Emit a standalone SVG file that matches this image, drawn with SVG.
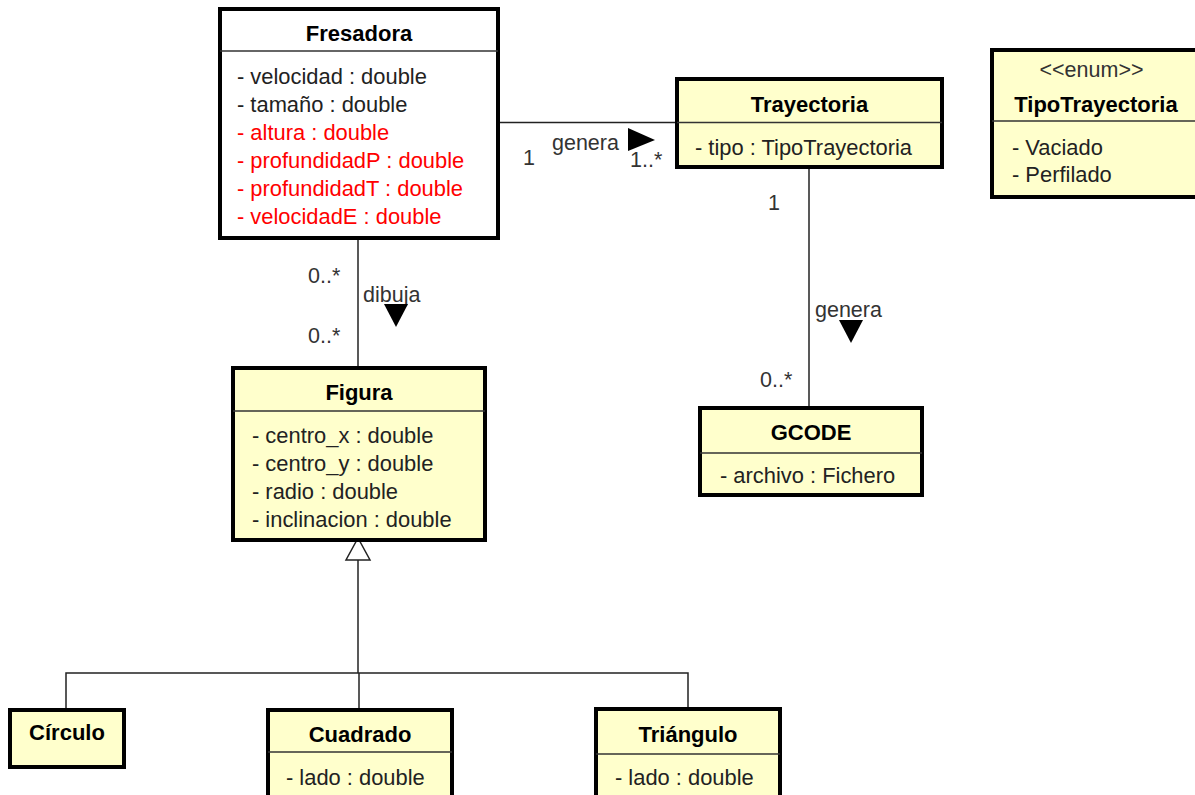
<svg xmlns="http://www.w3.org/2000/svg" width="1195" height="795" viewBox="0 0 1195 795">
  <style>
    .box { fill: #FFFFCC; stroke: #000; stroke-width: 4; }
    .box.plain { fill: #FFFFFF; }
    .sep { stroke: #333; stroke-width: 1.5; }
    .title { font-family: "Liberation Sans", Arial, sans-serif; font-size: 22px; font-weight: bold; fill: #000; text-anchor: middle; }
    .attr { font-family: "Liberation Sans", Arial, sans-serif; font-size: 21.9px; fill: #222; }
    .attr.red { fill: #FF0000; }
    .lbl { font-family: "Liberation Sans", Arial, sans-serif; font-size: 21.5px; fill: #333; }
    .link { stroke: #222; stroke-width: 1.5; fill: none; }
    .dir { fill: #000; }
    .gen { fill: #FFFFFF; stroke: #222; stroke-width: 1.5; }
  </style>

  <!-- associations and generalization -->
  <g id="connectors">
    <!-- Fresadora - Trayectoria -->
    <line class="link" x1="498" y1="122.5" x2="677" y2="122.5"/>
    <text class="lbl" x="523" y="165">1</text>
    <text class="lbl" x="552" y="150">genera</text>
    <text class="lbl" x="630" y="167">1..*</text>
    <polygon class="dir" points="628,128 628,151 655,140"/>

    <!-- Fresadora - Figura -->
    <line class="link" x1="358" y1="238" x2="358" y2="368"/>
    <text class="lbl" x="308" y="283">0..*</text>
    <text class="lbl" x="308" y="343">0..*</text>
    <text class="lbl" x="363" y="302">dibuja</text>
    <polygon class="dir" points="384,304 408,304 396,327"/>

    <!-- Trayectoria - GCODE -->
    <line class="link" x1="809" y1="167" x2="809" y2="408"/>
    <text class="lbl" x="768" y="210">1</text>
    <text class="lbl" x="815" y="317">genera</text>
    <text class="lbl" x="760" y="387">0..*</text>
    <polygon class="dir" points="839,320 863,320 851,343"/>

    <!-- Figura generalization -->
    <polyline class="link" points="66,710 66,673 688,673 688,709"/>
    <line class="link" x1="358" y1="560" x2="358" y2="673"/>
    <line class="link" x1="359" y1="673" x2="359" y2="710"/>
    <polygon class="gen" points="358,538 346,560 370,560"/>
  </g>

  <g id="fresadora">
    <rect class="box plain" x="220" y="9" width="278" height="229"/>
    <line class="sep" x1="220" y1="51" x2="498" y2="51"/>
    <text class="title" x="359" y="41">Fresadora</text>
    <text class="attr" x="237" y="84">- velocidad : double</text>
    <text class="attr" x="237" y="112">- tamaño : double</text>
    <text class="attr red" x="237" y="140">- altura : double</text>
    <text class="attr red" x="237" y="168">- profundidadP : double</text>
    <text class="attr red" x="237" y="196">- profundidadT : double</text>
    <text class="attr red" x="237" y="224">- velocidadE : double</text>
  </g>

  <g id="trayectoria">
    <rect class="box" x="677" y="79" width="265" height="88"/>
    <line class="sep" x1="677" y1="122.5" x2="942" y2="122.5"/>
    <text class="title" x="809.5" y="112">Trayectoria</text>
    <text class="attr" x="695" y="155">- tipo : TipoTrayectoria</text>
  </g>

  <g id="tipoTrayectoria">
    <rect class="box" x="992" y="50" width="212" height="147"/>
    <line class="sep" x1="992" y1="121" x2="1204" y2="121"/>
    <text class="lbl" x="1091.5" y="77" text-anchor="middle" fill="#222">&lt;&lt;enum&gt;&gt;</text>
    <text class="title" x="1096" y="112">TipoTrayectoria</text>
    <text class="attr" x="1012" y="155">- Vaciado</text>
    <text class="attr" x="1012" y="182">- Perfilado</text>
  </g>

  <g id="figura">
    <rect class="box" x="233" y="368" width="252" height="172"/>
    <line class="sep" x1="233" y1="411" x2="485" y2="411"/>
    <text class="title" x="359" y="400">Figura</text>
    <text class="attr" x="252" y="443">- centro_x : double</text>
    <text class="attr" x="252" y="471">- centro_y : double</text>
    <text class="attr" x="252" y="499">- radio : double</text>
    <text class="attr" x="252" y="527">- inclinacion : double</text>
  </g>

  <g id="gcode">
    <rect class="box" x="700" y="408" width="222" height="87"/>
    <line class="sep" x1="700" y1="453" x2="922" y2="453"/>
    <text class="title" x="811" y="440">GCODE</text>
    <text class="attr" x="720" y="483">- archivo : Fichero</text>
  </g>

  <g id="circulo">
    <rect class="box" x="10" y="710" width="114" height="57"/>
    <text class="title" x="67" y="740">Círculo</text>
  </g>

  <g id="cuadrado">
    <rect class="box" x="268" y="710" width="184" height="100"/>
    <line class="sep" x1="268" y1="752" x2="452" y2="752"/>
    <text class="title" x="360" y="742">Cuadrado</text>
    <text class="attr" x="286" y="785">- lado : double</text>
  </g>

  <g id="triangulo">
    <rect class="box" x="596" y="709" width="184" height="100"/>
    <line class="sep" x1="596" y1="754" x2="780" y2="754"/>
    <text class="title" x="688" y="742">Triángulo</text>
    <text class="attr" x="615" y="785">- lado : double</text>
  </g>
</svg>
